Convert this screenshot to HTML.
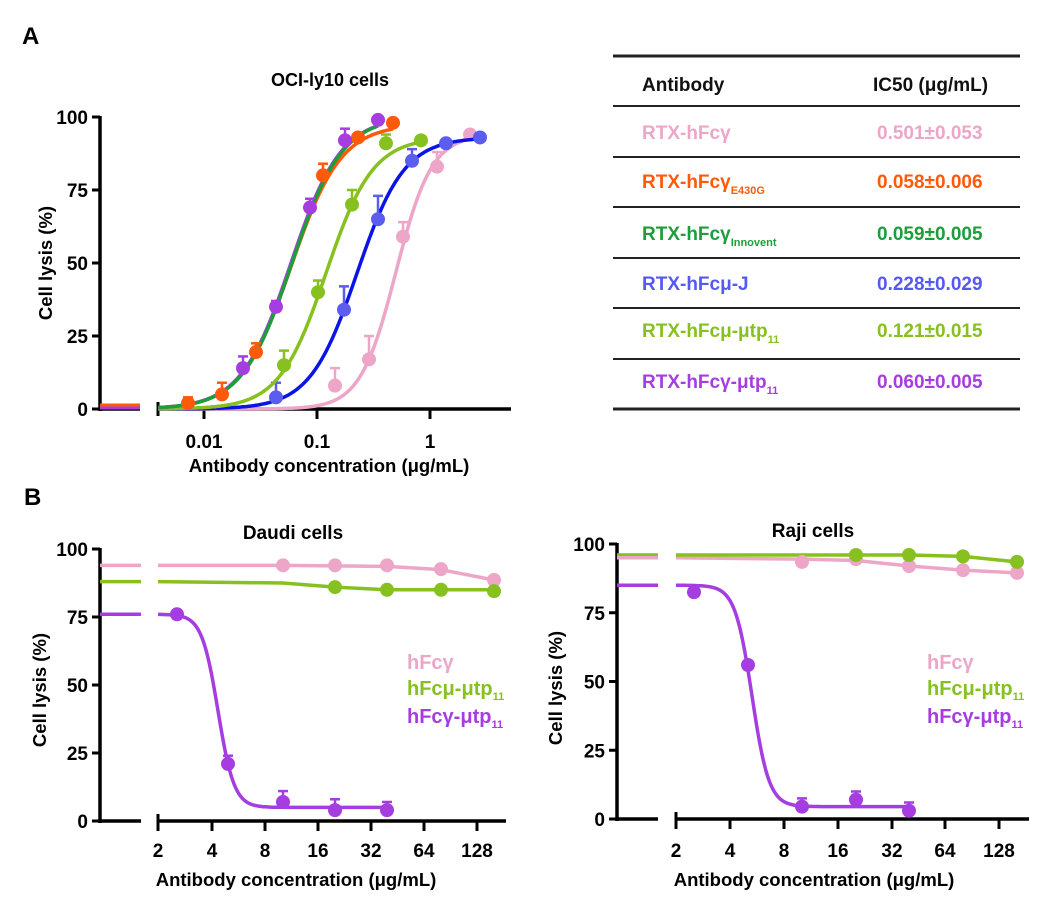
<!DOCTYPE html>
<html><head><meta charset="utf-8"><style>
html,body{margin:0;padding:0;background:#fff}
svg{display:block}
text{font-family:"Liberation Sans",Arial,sans-serif;font-weight:bold}
</style></head><body>
<svg id="s" width="1055" height="905" xmlns="http://www.w3.org/2000/svg">
<text x="22" y="44" font-size="24">A</text>
<text x="24" y="505" font-size="24">B</text>
<text x="330" y="86" font-size="18" text-anchor="middle">OCI-ly10 cells</text>
<text x="293" y="539" font-size="19" text-anchor="middle">Daudi cells</text>
<text x="813" y="537" font-size="19" text-anchor="middle">Raji cells</text>
<g font-size="18.5">
<text x="329" y="472" text-anchor="middle">Antibody concentration (μg/mL)</text>
<text x="296" y="886" text-anchor="middle">Antibody concentration (μg/mL)</text>
<text x="814" y="886" text-anchor="middle">Antibody concentration (μg/mL)</text>
<text transform="translate(52,263) rotate(-90)" text-anchor="middle">Cell lysis (%)</text>
<text transform="translate(46,690) rotate(-90)" text-anchor="middle">Cell lysis (%)</text>
<text transform="translate(562,688) rotate(-90)" text-anchor="middle">Cell lysis (%)</text>
</g>
<g stroke="#222">
<line x1="613" y1="56" x2="1020" y2="56" stroke-width="3"/>
<line x1="613" y1="106" x2="1020" y2="106" stroke-width="2"/>
<line x1="613" y1="157" x2="1020" y2="157" stroke-width="2"/>
<line x1="613" y1="207" x2="1020" y2="207" stroke-width="2"/>
<line x1="613" y1="258" x2="1020" y2="258" stroke-width="2"/>
<line x1="613" y1="308" x2="1020" y2="308" stroke-width="2"/>
<line x1="613" y1="359" x2="1020" y2="359" stroke-width="2"/>
<line x1="613" y1="409" x2="1020" y2="409" stroke-width="3"/>
</g>
<g font-size="19">
<text x="642" y="91" fill="#111">Antibody</text>
<text x="873" y="91" fill="#111">IC50 (μg/mL)</text>
<text x="642" y="139" fill="#eda6c8">RTX-hFcγ</text>
<text x="877" y="139" fill="#eda6c8">0.501±0.053</text>
<text x="642" y="188" fill="#ff5a0a">RTX-hFcγ<tspan font-size="11" dy="6">E430G</tspan></text>
<text x="877" y="188" fill="#ff5a0a">0.058±0.006</text>
<text x="642" y="240" fill="#1e9e3a">RTX-hFcγ<tspan font-size="11" dy="6">Innovent</tspan></text>
<text x="877" y="240" fill="#1e9e3a">0.059±0.005</text>
<text x="642" y="290" fill="#5559f0">RTX-hFcμ-J</text>
<text x="877" y="290" fill="#5559f0">0.228±0.029</text>
<text x="642" y="337" fill="#86c11f">RTX-hFcμ-μtp<tspan font-size="11" dy="6">11</tspan></text>
<text x="877" y="337" fill="#86c11f">0.121±0.015</text>
<text x="642" y="388" fill="#a63de0">RTX-hFcγ-μtp<tspan font-size="11" dy="6">11</tspan></text>
<text x="877" y="388" fill="#a63de0">0.060±0.005</text>
</g>
<g font-size="20">
<text x="407" y="669" fill="#eda6c8">hFcγ</text>
<text x="407" y="695" fill="#86c11f">hFcμ-μtp<tspan font-size="11" dy="5">11</tspan></text>
<text x="407" y="723" fill="#a63de0">hFcγ-μtp<tspan font-size="11" dy="5">11</tspan></text>
<text x="927" y="669" fill="#eda6c8">hFcγ</text>
<text x="927" y="695" fill="#86c11f">hFcμ-μtp<tspan font-size="11" dy="5">11</tspan></text>
<text x="927" y="723" fill="#a63de0">hFcγ-μtp<tspan font-size="11" dy="5">11</tspan></text>
</g>
<g id="dyn"></g>
</svg>
<script>
var g=document.getElementById('dyn'),h='';
function L(x1,y1,x2,y2,c,w){h+='<line x1="'+x1+'" y1="'+y1+'" x2="'+x2+'" y2="'+y2+'" stroke="'+c+'" stroke-width="'+w+'"/>';}
function T(x,y,t,a){h+='<text x="'+x+'" y="'+y+'" font-size="19" text-anchor="'+(a||'middle')+'">'+t+'</text>';}
function C(x,y,c){h+='<circle cx="'+x+'" cy="'+y+'" r="7" fill="'+c+'"/>';}
function E(x,y,d,c){L(x,y,x,y-d,c,2.5);L(x-5,y-d,x+5,y-d,c,2.5);}
function P(f,x0,x1,c,w){var s='M';for(var x=x0;x<=x1;x+=1){s+=x+','+f(x).toFixed(1)+' ';}h+='<path d="'+s+'" fill="none" stroke="'+c+'" stroke-width="'+(w||3.5)+'"/>';}
function axes(ax,yt,yb,xl,xr1,xr0,xr2,ticks,labels,ly){
 L(ax,yt-1,ax,yb+2,'#000',3.5);
 [0,25,50,75,100].forEach(function(v){var y=yb-(yb-yt)*v/100;L(ax-8,y,ax,y,'#000',3);T(ax-12,y+7,v,'end');});
 L(ax,yb,xl,yb,'#000',3.5);L(xr0,yb,xr2,yb,'#000',3.5);L(xr0,yb-7,xr0,yb+7,'#000',3);
 ticks.forEach(function(x,i){L(x,yb,x,yb+10,'#000',3);T(x,ly,labels[i]);});
}
var yA=function(v){return 409-2.92*v;};
function lg(top,x50,s){return function(x){return yA(top/(1+Math.exp(-(x-x50)/s)));};}
axes(100,117,409,140,0,158,511,[204,317,430],['0.01','0.1','1'],448);
L(100,405,140,405,'#ff5a0a',3);L(100,408,140,408,'#a63de0',3);
var cp='#eda6c8',cb='#0a14e6',cbp='#5b5cf0',cy='#86c11f',cg='#1e9e3a',co='#ff5a0a',cu='#a63de0';
P(lg(94,396,17.9),158,470,cp);
[[335,8,6],[369,17,8],[403,59,5],[437,83,5],[470,94,0]].forEach(function(p){E(p[0],yA(p[1]),p[2]*2.92,cp);C(p[0],yA(p[1]),cp);});
P(lg(93,357,23.6),158,480,cb);
[[276,4,5],[344,34,8],[378,65,8],[412,85,4],[446,91,0],[480,93,0]].forEach(function(p){E(p[0],yA(p[1]),p[2]*2.92,cbp);C(p[0],yA(p[1]),cbp);});
P(lg(93,326,23.4),158,421,cy);
[[284,15,5],[318,40,4],[352,70,5],[386,91,3],[421,92,0]].forEach(function(p){E(p[0],yA(p[1]),p[2]*2.92,cy);C(p[0],yA(p[1]),cy);});
P(lg(97.5,291,25),158,393,co);
P(lg(100,291,25),158,378,cu);
P(lg(100,292,25),158,378,cg);
[[188,2,2],[222,5,4],[256,19.5,3],[323,80,4],[358,93,0],[393,98,0]].forEach(function(p){E(p[0],yA(p[1]),p[2]*2.92,co);C(p[0],yA(p[1]),co);});
[[243,14,4],[276,35,2],[310,69,3],[345,92,4],[378,99,0]].forEach(function(p){E(p[0],yA(p[1]),p[2]*2.92,cu);C(p[0],yA(p[1]),cu);});
var yB=function(v){return 821-2.72*v;};
axes(100,549,821,141,0,158,506,[158,212,265,318,371,424,477],['2','4','8','16','32','64','128'],857);
L(100,yB(94),141,yB(94),cp,3.5);L(100,yB(88),141,yB(88),cy,3.5);L(100,yB(76),141,yB(76),cu,3.5);
function poly(pts,c,yf){var s='M'+pts.map(function(p){return p[0]+','+yf(p[1]);}).join(' L');h+='<path d="'+s+'" fill="none" stroke="'+c+'" stroke-width="3.5" stroke-linejoin="round"/>';}
poly([[158,94],[283,94],[335,93.8],[387,93.6],[441,92.4],[494,88.6]],cp,yB);
poly([[158,88],[283,87.5],[335,86],[387,85],[441,85],[494,85]],cy,yB);
[[283,94],[335,94],[387,94],[441,92.6],[494,88.6]].forEach(function(p){C(p[0],yB(p[1]),cp);});
[[335,86],[387,85],[441,85],[494,84.5]].forEach(function(p){C(p[0],yB(p[1]),cy);});
P(function(x){return yB(5+71/(1+Math.exp((x-218)/8.1)));},158,387,cu);
[[177,76,0],[228,21,3],[283,7,4],[335,4,4],[387,4,3]].forEach(function(p){E(p[0],yB(p[1]),p[2]*2.72,cu);C(p[0],yB(p[1]),cu);});
var yR=function(v){return 819-2.75*v;};
axes(617,544,819,658,0,676,1029,[676,730,784,838,892,945,999],['2','4','8','16','32','64','128'],857);
L(617,yR(96),658,yR(96),cy,3.5);L(617,yR(95),658,yR(95),cp,3.5);L(617,yR(85),658,yR(85),cu,3.5);
poly([[676,95],[802,94.5],[856,94],[909,92],[963,90.5],[1017,89.5]],cp,yR);
poly([[676,96],[856,96],[909,96],[963,95.5],[1017,93.5]],cy,yR);
[[802,93.5],[856,94.5],[909,92],[963,90.5],[1017,89.5]].forEach(function(p){C(p[0],yR(p[1]),cp);});
[[856,96],[909,96],[963,95.5],[1017,93.5]].forEach(function(p){C(p[0],yR(p[1]),cy);});
P(function(x){return yR(4.5+80.5/(1+Math.exp((x-752)/8.5)));},676,909,cu);
[[694,82.5,0],[748,56,0],[802,4.5,3],[856,7,3],[909,3,3]].forEach(function(p){E(p[0],yR(p[1]),p[2]*2.75,cu);C(p[0],yR(p[1]),cu);});
g.innerHTML=h;
</script>
</body></html>
